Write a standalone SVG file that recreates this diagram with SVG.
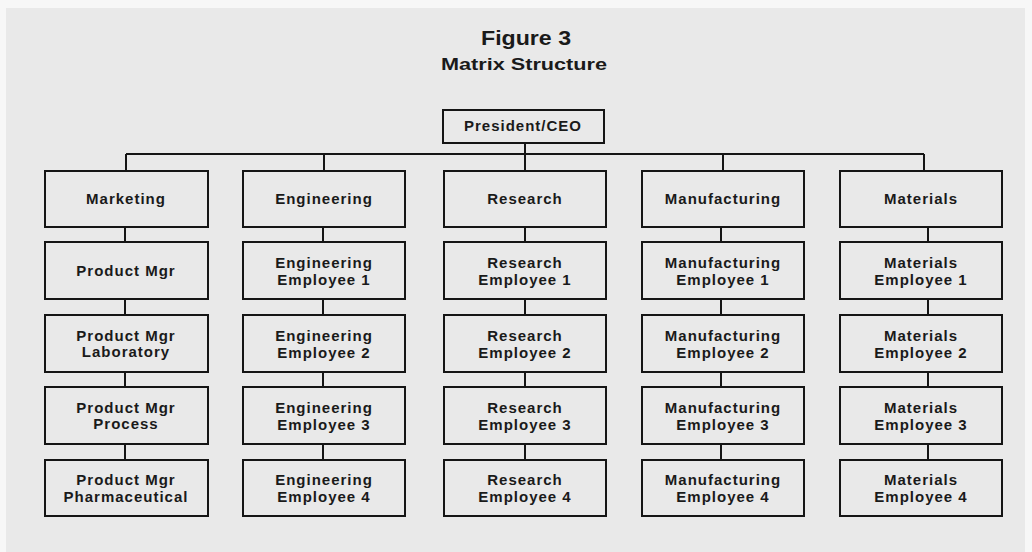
<svg xmlns="http://www.w3.org/2000/svg" width="1032" height="552" viewBox="0 0 1032 552">
<style>
.bg{fill:#e9e9e9}
.box{fill:#e9e9e9;stroke:#151515;stroke-width:2}
.ln{stroke:#151515;stroke-width:2;fill:none}
text{font-family:"Liberation Sans",Arial,sans-serif;fill:#1a1a1a;text-anchor:middle}
.t{font-size:15px;font-weight:bold;letter-spacing:1px}
.h1{font-size:20px;font-weight:bold}
.h2{font-size:16px;font-weight:bold}
</style>
<rect x="0" y="0" width="1032" height="552" fill="#f7f7f7"/>
<rect class="bg" x="6" y="8" width="1019" height="544"/>
<text class="h1" x="526" y="45" textLength="90" lengthAdjust="spacingAndGlyphs">Figure 3</text>
<text class="h2" x="524" y="70" textLength="166" lengthAdjust="spacingAndGlyphs">Matrix Structure</text>
<g id="connectors">
<path class="ln" d="M525 143V154M126 154H924M126 154V171M324 154V171M525 154V171M723 154V171M924 154V171"/>
<path class="ln" d="M125 227V242M125 299V315M125 372V387M125 444V460"/>
<path class="ln" d="M323 227V242M323 299V315M323 372V387M323 444V460"/>
<path class="ln" d="M525 227V242M525 299V315M525 372V387M525 444V460"/>
<path class="ln" d="M721 227V242M721 299V315M721 372V387M721 444V460"/>
<path class="ln" d="M928 227V242M928 299V315M928 372V387M928 444V460"/>
</g>
<g id="president"><rect class="box" x="443" y="110" width="161" height="33"/><text class="t" x="523" y="131">President/CEO</text></g>

<g id="marketing"><rect class="box" x="45" y="171" width="163" height="56"/><text class="t" x="126" y="204">Marketing</text></g>
<g id="product-mgr"><rect class="box" x="45" y="242" width="163" height="57"/><text class="t" x="126" y="276">Product Mgr</text></g>
<g id="product-mgr-lab"><rect class="box" x="45" y="315" width="163" height="57"/><text class="t" x="126" y="341">Product Mgr</text><text class="t" x="126" y="357">Laboratory</text></g>
<g id="product-mgr-process"><rect class="box" x="45" y="387" width="163" height="57"/><text class="t" x="126" y="413">Product Mgr</text><text class="t" x="126" y="429">Process</text></g>
<g id="product-mgr-pharma"><rect class="box" x="45" y="460" width="163" height="56"/><text class="t" x="126" y="485">Product Mgr</text><text class="t" x="126" y="502">Pharmaceutical</text></g>

<g id="engineering"><rect class="box" x="243" y="171" width="162" height="56"/><text class="t" x="324" y="204">Engineering</text></g>
<g id="eng-1"><rect class="box" x="243" y="242" width="162" height="57"/><text class="t" x="324" y="268">Engineering</text><text class="t" x="324" y="285">Employee 1</text></g>
<g id="eng-2"><rect class="box" x="243" y="315" width="162" height="57"/><text class="t" x="324" y="341">Engineering</text><text class="t" x="324" y="358">Employee 2</text></g>
<g id="eng-3"><rect class="box" x="243" y="387" width="162" height="57"/><text class="t" x="324" y="413">Engineering</text><text class="t" x="324" y="430">Employee 3</text></g>
<g id="eng-4"><rect class="box" x="243" y="460" width="162" height="56"/><text class="t" x="324" y="485">Engineering</text><text class="t" x="324" y="502">Employee 4</text></g>

<g id="research"><rect class="box" x="444" y="171" width="162" height="56"/><text class="t" x="525" y="204">Research</text></g>
<g id="res-1"><rect class="box" x="444" y="242" width="162" height="57"/><text class="t" x="525" y="268">Research</text><text class="t" x="525" y="285">Employee 1</text></g>
<g id="res-2"><rect class="box" x="444" y="315" width="162" height="57"/><text class="t" x="525" y="341">Research</text><text class="t" x="525" y="358">Employee 2</text></g>
<g id="res-3"><rect class="box" x="444" y="387" width="162" height="57"/><text class="t" x="525" y="413">Research</text><text class="t" x="525" y="430">Employee 3</text></g>
<g id="res-4"><rect class="box" x="444" y="460" width="162" height="56"/><text class="t" x="525" y="485">Research</text><text class="t" x="525" y="502">Employee 4</text></g>

<g id="manufacturing"><rect class="box" x="642" y="171" width="162" height="56"/><text class="t" x="723" y="204">Manufacturing</text></g>
<g id="man-1"><rect class="box" x="642" y="242" width="162" height="57"/><text class="t" x="723" y="268">Manufacturing</text><text class="t" x="723" y="285">Employee 1</text></g>
<g id="man-2"><rect class="box" x="642" y="315" width="162" height="57"/><text class="t" x="723" y="341">Manufacturing</text><text class="t" x="723" y="358">Employee 2</text></g>
<g id="man-3"><rect class="box" x="642" y="387" width="162" height="57"/><text class="t" x="723" y="413">Manufacturing</text><text class="t" x="723" y="430">Employee 3</text></g>
<g id="man-4"><rect class="box" x="642" y="460" width="162" height="56"/><text class="t" x="723" y="485">Manufacturing</text><text class="t" x="723" y="502">Employee 4</text></g>

<g id="materials"><rect class="box" x="840" y="171" width="162" height="56"/><text class="t" x="921" y="204">Materials</text></g>
<g id="mat-1"><rect class="box" x="840" y="242" width="162" height="57"/><text class="t" x="921" y="268">Materials</text><text class="t" x="921" y="285">Employee 1</text></g>
<g id="mat-2"><rect class="box" x="840" y="315" width="162" height="57"/><text class="t" x="921" y="341">Materials</text><text class="t" x="921" y="358">Employee 2</text></g>
<g id="mat-3"><rect class="box" x="840" y="387" width="162" height="57"/><text class="t" x="921" y="413">Materials</text><text class="t" x="921" y="430">Employee 3</text></g>
<g id="mat-4"><rect class="box" x="840" y="460" width="162" height="56"/><text class="t" x="921" y="485">Materials</text><text class="t" x="921" y="502">Employee 4</text></g>
</svg>
